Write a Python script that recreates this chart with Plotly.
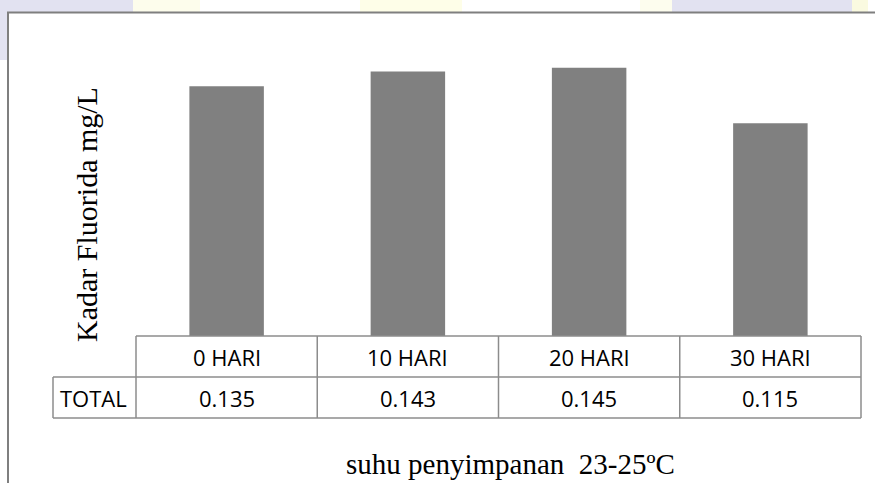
import plotly.graph_objects as go

# ---- data ----
categories = ["0 HARI", "10 HARI", "20 HARI", "30 HARI"]
values = [0.135, 0.143, 0.145, 0.115]
value_labels = ["0.135", "0.143", "0.145", "0.115"]
row_label = "TOTAL"
y_title = "Kadar Fluorida mg/L"
x_title = "suhu penyimpanan  23-25ºC"

W, H = 875, 483
ML, MR, MT, MB = 136, 14, 40, 147
PW, PH = W - ML - MR, H - MT - MB


def px(x):
    return (x - ML) / PW


def py(y):
    return (H - MB - y) / PH


fig = go.Figure()
fig.add_trace(go.Bar(x=categories, y=values, marker=dict(color="#808080", line=dict(width=0)),
                     hoverinfo="skip"))

grid = "#8c8c8c"
n = len(categories)
shapes = []
# faint watermark patches outside the frame
wm = [("#e2e2f1", 0, 133), ("#fdfdec", 133, 200), ("#fefee8", 360, 462),
      ("#fdfdee", 640, 672), ("#e2e2f1", 672, 852), ("#fafae0", 852, 868)]
for col, a, b in wm:
    shapes.append(dict(type="rect", xref="paper", yref="paper", x0=px(a), x1=px(b),
                       y0=py(12), y1=py(0), fillcolor=col, line=dict(width=0), layer="below"))
shapes.append(dict(type="rect", xref="paper", yref="paper", x0=px(0), x1=px(7),
                   y0=py(60), y1=py(0), fillcolor="#e2e2f1", line=dict(width=0), layer="below"))
# outer frame
shapes.append(dict(type="rect", xref="paper", yref="paper", x0=px(8), x1=px(900),
                   y0=py(520), y1=py(12.5), line=dict(color="#7f7f7f", width=2)))
# table
row1, row2, row3 = 0.0, py(377), py(418)
left_total = px(53)
shapes.append(dict(type="line", xref="paper", yref="paper", x0=0, x1=1, y0=row1, y1=row1,
                   line=dict(color=grid, width=1.5)))
for yy in (row2, row3):
    shapes.append(dict(type="line", xref="paper", yref="paper", x0=left_total, x1=1, y0=yy, y1=yy,
                       line=dict(color=grid, width=1.5)))
shapes.append(dict(type="line", xref="paper", yref="paper", x0=left_total, x1=left_total,
                   y0=row3, y1=row2, line=dict(color=grid, width=1.5)))
for k in range(n + 1):
    xx = k / n
    shapes.append(dict(type="line", xref="paper", yref="paper", x0=xx, x1=xx, y0=row3, y1=row1,
                       line=dict(color=grid, width=1.5)))

cell_font = dict(family="Open Sans", size=22, color="#000000")
ann = []
for c, v in zip(categories, value_labels):
    ann.append(dict(x=c, xref="x", y=(row1 + row2) / 2, yref="paper", text=c, showarrow=False,
                    xanchor="center", yanchor="middle", font=cell_font))
    ann.append(dict(x=c, xref="x", y=(row2 + row3) / 2, yref="paper", text=v, showarrow=False,
                    xanchor="center", yanchor="middle", font=cell_font))
ann.append(dict(x=px(93), xref="paper", y=(row2 + row3) / 2, yref="paper", text=row_label,
                showarrow=False, xanchor="center", yanchor="middle", font=cell_font))
ann.append(dict(x=px(86), xref="paper", y=py(215), yref="paper", text=y_title, textangle=-90,
                showarrow=False, xanchor="center", yanchor="middle",
                font=dict(family="Liberation Serif", size=30, color="#000000")))
ann.append(dict(x=px(510), xref="paper", y=py(464), yref="paper", text=x_title,
                showarrow=False, xanchor="center", yanchor="middle",
                font=dict(family="Liberation Serif", size=29, color="#000000")))

fig.update_layout(
    width=W, height=H,
    margin=dict(l=ML, r=MR, t=MT, b=MB, pad=0),
    paper_bgcolor="#ffffff", plot_bgcolor="#ffffff",
    bargap=0.589,
    showlegend=False,
    xaxis=dict(showticklabels=False, showgrid=False, zeroline=False, showline=False, ticks=""),
    yaxis=dict(range=[0, 0.16], showticklabels=False, showgrid=False, zeroline=False,
               showline=False, ticks=""),
    shapes=shapes,
    annotations=ann,
)

fig.write_html("out.html", config={"displayModeBar": False},
               post_script="document.body.style.margin='0';document.body.style.overflow='hidden';")
